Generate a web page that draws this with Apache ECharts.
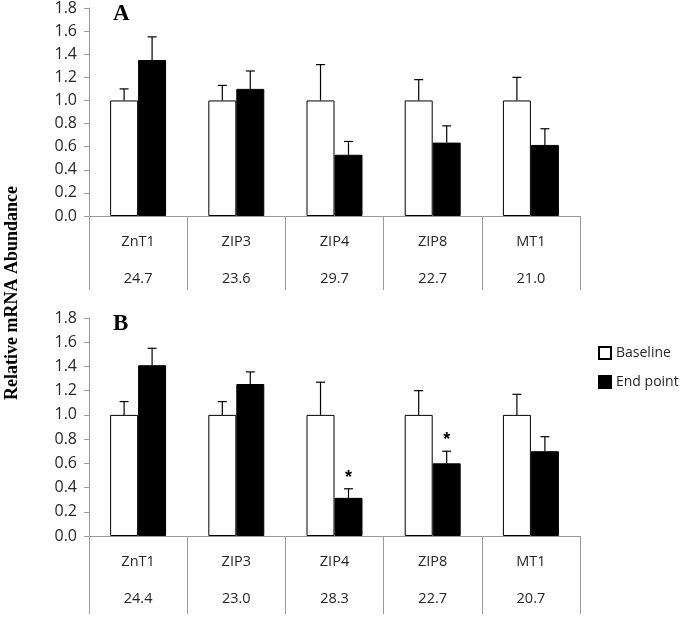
<!DOCTYPE html>
<html>
<head>
<meta charset="utf-8">
<script src="https://cdn.jsdelivr.net/npm/echarts@6/dist/echarts.min.js"></script>
<style>html,body{margin:0;padding:0;background:#fff}#c{width:681px;height:617px}</style>
</head>
<body>
<div id="c"></div>
<script>
const categories = ['ZnT1', 'ZIP3', 'ZIP4', 'ZIP8', 'MT1'];
const ctA = ['24.7', '23.6', '29.7', '22.7', '21.0'];
const ctB = ['24.4', '23.0', '28.3', '22.7', '20.7'];
const yTicks = [0, 0.2, 0.4, 0.6, 0.8, 1.0, 1.2, 1.4, 1.6, 1.8];

const baseA = [1.0, 1.0, 1.0, 1.0, 1.0];
const baseErrA = [0.10, 0.13, 0.31, 0.18, 0.20];
const endA = [1.35, 1.10, 0.53, 0.635, 0.615];
const endErrA = [0.20, 0.155, 0.115, 0.145, 0.14];
const sigA = [0, 0, 0, 0, 0];

const baseB = [1.0, 1.0, 1.0, 1.0, 1.0];
const baseErrB = [0.11, 0.11, 0.27, 0.20, 0.17];
const endB = [1.41, 1.255, 0.315, 0.60, 0.70];
const endErrB = [0.14, 0.10, 0.075, 0.10, 0.12];
const sigB = [0, 0, 1, 1, 0];

const BARW = 0.285;

function errData(base, baseErr, end, endErr, sig) {
  const d = [];
  for (let i = 0; i < categories.length; i++) {
    d.push([i, base[i], base[i] + baseErr[i], -1, 0]);
    d.push([i, end[i], end[i] + endErr[i], 1, sig[i]]);
  }
  return d;
}

function renderErr(params, api) {
  const ci = api.value(0), v = api.value(1), top = api.value(2), side = api.value(3), sig = api.value(4);
  const band = api.size([1, 0])[0];
  const off = side * band * BARW / 2;
  const p0 = api.coord([ci, v]);
  const p1 = api.coord([ci, top]);
  const x = p0[0] + off;
  const children = [
    { type: 'line', shape: { x1: x, y1: p0[1], x2: x, y2: p1[1] }, style: { stroke: '#000', lineWidth: 1.2 } },
    { type: 'line', shape: { x1: x - 4.5, y1: p1[1], x2: x + 4.5, y2: p1[1] }, style: { stroke: '#000', lineWidth: 1.2 } }
  ];
  if (sig) {
    children.push({ type: 'text', style: { text: '*', x: x, y: p1[1] - 2, align: 'center', verticalAlign: 'bottom', font: 'bold 18px "Liberation Sans"', fill: '#000' } });
  }
  return { type: 'group', children: children };
}

const axisGray = '#9a9a9a';
const labelColor = '#262626';

function xAxisFor(gi, ct, tickLen) {
  return {
    type: 'category', gridIndex: gi, data: categories,
    axisLine: { lineStyle: { color: axisGray, width: 1 } },
    axisTick: { show: true, alignWithLabel: false, length: tickLen, lineStyle: { color: axisGray } },
    axisLabel: {
      margin: 7, lineHeight: 37, fontSize: 14.5, fontFamily: 'Open Sans', color: labelColor,
      formatter: (v, idx) => v + '\n' + ct[idx]
    }
  };
}
function yAxisFor(gi) {
  return {
    type: 'value', gridIndex: gi, min: yTicks[0], max: yTicks[yTicks.length - 1], interval: 0.2,
    axisLine: { show: true, lineStyle: { color: axisGray } },
    axisTick: { show: true, length: 5, lineStyle: { color: axisGray } },
    splitLine: { show: false },
    axisLabel: { margin: 12, fontSize: 16, fontFamily: 'Open Sans', color: labelColor, formatter: v => v.toFixed(1) }
  };
}

const barBase = { type: 'bar', barWidth: (BARW * 100) + '%', barGap: '0%', itemStyle: { color: '#fff', borderColor: '#000', borderWidth: 1 } };
const barEnd = { type: 'bar', barWidth: (BARW * 100) + '%', barGap: '0%', itemStyle: { color: '#000', borderColor: '#000', borderWidth: 1 } };

const chart = echarts.init(document.getElementById('c'), null, { renderer: 'canvas' });
chart.setOption({
  animation: false,
  backgroundColor: '#fff',
  grid: [
    { left: 89, top: 7.2, width: 491, height: 208.8 },
    { left: 89, top: 318, width: 491, height: 222 }
  ],
  xAxis: [xAxisFor(0, ctA, 74), xAxisFor(1, ctB, 78)],
  yAxis: [yAxisFor(0), yAxisFor(1)],
  legend: {
    orient: 'vertical', left: 593, top: 341, itemWidth: 12, itemHeight: 12, itemGap: 15,
    icon: 'rect',
    textStyle: { fontSize: 14, fontFamily: 'Open Sans', color: labelColor },
    data: ['Baseline', 'End point']
  },
  graphic: [
    { type: 'text', x: 113, y: 3, style: { text: 'A', font: 'bold 23px "Liberation Serif"', fill: '#000' } },
    { type: 'text', x: 113, y: 313, style: { text: 'B', font: 'bold 23px "Liberation Serif"', fill: '#000' } },
    { type: 'text', x: 12, y: 293, rotation: Math.PI / 2, style: { text: 'Relative mRNA Abundance', font: 'bold 18px "Liberation Serif"', fill: '#000', align: 'center', verticalAlign: 'middle' } }
  ],
  series: [
    Object.assign({ name: 'Baseline', xAxisIndex: 0, yAxisIndex: 0, data: baseA }, barBase),
    Object.assign({ name: 'End point', xAxisIndex: 0, yAxisIndex: 0, data: endA }, barEnd),
    Object.assign({ name: 'Baseline', xAxisIndex: 1, yAxisIndex: 1, data: baseB }, barBase),
    Object.assign({ name: 'End point', xAxisIndex: 1, yAxisIndex: 1, data: endB }, barEnd),
    { type: 'custom', xAxisIndex: 0, yAxisIndex: 0, renderItem: renderErr, encode: { x: 0, y: 1 }, data: errData(baseA, baseErrA, endA, endErrA, sigA), z: 5, clip: false },
    { type: 'custom', xAxisIndex: 1, yAxisIndex: 1, renderItem: renderErr, encode: { x: 0, y: 1 }, data: errData(baseB, baseErrB, endB, endErrB, sigB), z: 5, clip: false }
  ]
});
</script>
</body>
</html>
